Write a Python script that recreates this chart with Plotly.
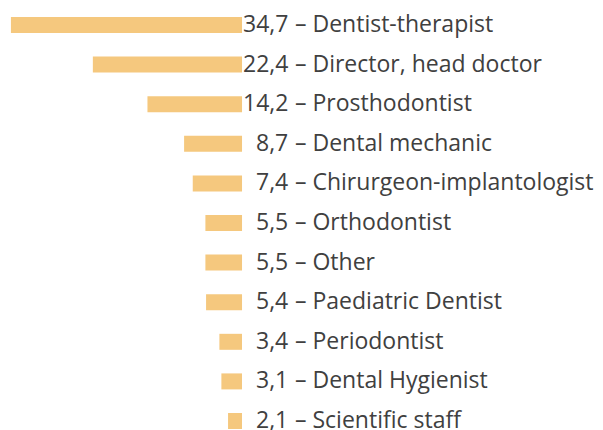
import plotly.graph_objects as go

categories = ["Dentist-therapist", "Director, head doctor", "Prosthodontist", "Dental mechanic",
              "Chirurgeon-implantologist", "Orthodontist", "Other", "Paediatric Dentist",
              "Periodontist", "Dental Hygienist", "Scientific staff"]
values = [34.7, 22.4, 14.2, 8.7, 7.4, 5.5, 5.5, 5.4, 3.4, 3.1, 2.1]
value_labels = ["34,7", "22,4", "14,2", "8,7", "7,4", "5,5", "5,5", "5,4", "3,4", "3,1", "2,1"]

BAR = "#F5C87E"
TXT = "#404040"
FONT = "Open Sans"
FS = 23

fig = go.Figure(go.Bar(
    y=categories, x=[-v for v in values], orientation="h",
    marker=dict(color=BAR, line=dict(width=0)), width=0.404,
    hoverinfo="skip",
))

ann = []
for c, lab in zip(categories, value_labels):
    ann.append(dict(x=0, y=c, xref="x", yref="y", text=lab, showarrow=False, borderpad=0,
                    xanchor="right", xshift=47, yshift=2, font=dict(family=FONT, size=FS, color=TXT)))
    ann.append(dict(x=0, y=c, xref="x", yref="y", text="– " + c, showarrow=False, borderpad=0,
                    xanchor="left", xshift=52, yshift=2, font=dict(family=FONT, size=FS, color=TXT)))

fig.update_layout(
    width=595, height=422, margin=dict(l=0, r=0, t=0, b=0),
    plot_bgcolor="white", paper_bgcolor="white", showlegend=False,
    xaxis=dict(range=[-35.14, 54.2], visible=False, fixedrange=True),
    yaxis=dict(range=[10.227, -0.429], visible=False, type="category", fixedrange=True),
    annotations=ann,
)
fig.write_html("out.html")
